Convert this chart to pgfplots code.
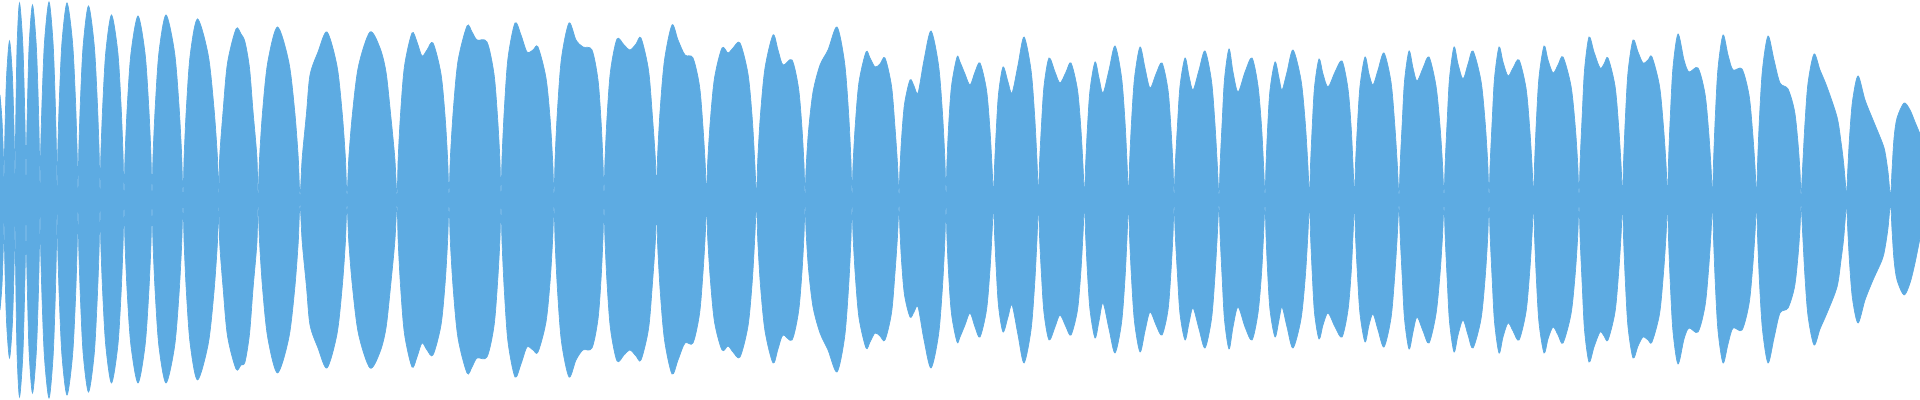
\documentclass[border=0pt]{standalone}
\usepackage{pgfplots}
\usepackage{pgfplotstable}
\pgfplotsset{compat=1.18}
\usepgfplotslibrary{fillbetween}

\definecolor{wavefill}{RGB}{93,171,226}

% envelope of the waveform: x in samples (px), up/lo = upper/lower amplitude
\pgfplotstableread{
x up lo
0 105 -110
2 80 -85
3.5 40 -40
4 4 -4
4.4 40 -40
5.3 83 -83
6.75 127 -126
9.5 159 -158
12.25 127 -126
13.7 83 -83
14.6 40 -40
15 4 -4
15.4 49 -49
16.1 102 -102
17.2 158 -158
19.5 197 -197
22.7 158 -158
24.4 102 -102
25.5 49 -49
26 4 -4
26.5 49 -49
27.6 101 -100
29.2 156 -154
32.5 195 -193
36.2 156 -154
38.2 101 -100
39.4 49 -49
40 4 -4
40.7 50 -50
42.2 103 -103
44.5 158 -158
49 198 -198
53 158 -158
55.1 103 -103
56.4 50 -50
57 4 -4
57.8 49 -49
59.4 102 -101
62 158 -156
67 197 -195
72.5 158 -156
75.4 102 -101
77.1 49 -49
78 4 -4
78.8 49 -49
80.5 101 -100
83.2 155 -154
88.5 194 -192
94.2 155 -154
97.2 101 -100
99.1 49 -49
100 4 -4
100.9 46 -46
102.8 96 -95
105.8 148 -146
111.5 185 -183
117.8 148 -146
121 96 -95
123 46 -46
124 4 -4
125.1 46 -46
127.4 96 -96
131 147 -146
138 184 -183
145 147 -146
148.6 96 -96
150.9 46 -46
152 4 -4
153.1 46 -46
155.4 96 -96
159 148 -147
166 185 -183
174.5 148 -147
178.9 96 -96
181.6 46 -46
183 4 -4
184.2 45 -45
186.5 94 -94
190.2 145 -144
197.5 181 -180
208.2 145 -144
213.8 94 -94
217.3 45 -45
219 4 -4
219.7 43 -43
223.1 89 -88
227.5 137 -136
236 171 -169
241 166 -165
245 158 -162
249.5 132 -134
253 89 -89
256.9 43 -43
258 4 -4
259.6 43 -43
262.7 90 -90
267.8 138 -138
277.5 173 -173
288.8 138 -138
294.6 90 -90
298.2 43 -43
300 4 -4
302.2 42 -42
306.5 87 -87
310 125 -125
318 148 -148
327 168 -168
337 134 -134
342.2 87 -87
345.4 42 -42
347 4 -4
348.8 42 -42
352.5 87 -87
358.5 134 -134
370 168 -168
380 152 -152
386 128 -128
390.5 87 -87
394.8 42 -42
397 4 -4
398.2 42 -42
400.6 87 -87
404.5 134 -134
412 167 -167
417 158 -157
422 144 -143
427 150 -150
433 157 -155
441 126 -125
445.2 82 -82
447.7 39 -39
449 4 -4
450.4 43 -43
453.3 90 -90
458 139 -138
467 174 -173
472 168 -167
477 160 -158
487 158 -157
494 126 -126
497.6 82 -82
499.9 40 -40
501 4 -4
502.1 44 -44
504.4 92 -92
508 142 -142
515 177 -177
521 165 -164
527 148 -147
533 150 -150
538 153 -152
546 122 -122
550.2 80 -80
552.7 38 -38
554 4 -4
555.2 44 -44
557.6 92 -92
561.5 142 -142
569 177 -177
576 160 -160
583 153 -150
592 150 -148
598 120 -119
601.1 78 -78
603 37 -37
604 4 -4
605 40 -40
607.1 84 -84
610.5 129 -129
617 161 -161
624 155 -155
630 150 -150
636 156 -156
641 162 -160
648.5 130 -129
652.4 84 -84
655.4 40 -40
656.5 4 -4
657.6 44 -44
660.2 91 -91
664.5 140 -140
672 175 -174
678 160 -160
685 145 -143
693 142 -143
699.5 114 -114
702.9 74 -74
705.2 36 -36
706.5 4 -4
707.7 38 -38
710.3 79 -79
714.5 122 -122
722 152 -150
728 147 -146
733 152 -152
740 157 -157
748 126 -126
752.2 82 -82
754.7 39 -39
756.5 4 -4
757.8 41 -41
760.5 86 -86
765 132 -131
773 165 -163
778 150 -149
783 135 -135
792 140 -140
798.5 112 -112
801.9 73 -73
804 35 -35
805 4 -4
806.2 34 -34
808.6 70 -70
813 108 -107
820 135 -133
828 150 -150
837 173 -172
844.5 138 -138
848.4 90 -90
850.8 43 -43
852 4 -4
853.1 37 -37
855.4 77 -77
859 118 -118
866 148 -148
870 142 -142
875 133 -133
880 136 -136
885 142 -140
891.5 114 -113
894.9 74 -74
897.5 36 -36
899 4 -4
899.9 30 -30
901.6 62 -62
904.5 96 -95
910 120 -117
914 114 -112
918 107 -107
924 140 -140
931 169 -168
938.5 135 -135
942.4 88 -88
944.8 42 -42
946 4 -4
946.9 36 -36
948.6 74 -74
951.5 114 -114
957 143 -142
960 138 -137
965 126 -125
970 115 -113
975 128 -127
980 137 -137
986.5 110 -110
989.9 71 -71
992 34 -34
993.5 4 -4
994.5 33 -33
996.2 69 -69
998.5 106 -106
1003 133 -132
1008 118 -117
1012 107 -105
1018 135 -135
1024 163 -163
1031 130 -130
1034.6 85 -85
1036.9 41 -41
1038.5 4 -4
1039.5 36 -36
1041.4 74 -74
1044 114 -113
1049 142 -140
1055 128 -127
1060 117 -115
1066 128 -127
1071 137 -135
1077.5 110 -110
1080.9 71 -71
1083 34 -34
1084.5 4 -4
1085.6 35 -35
1087.4 72 -72
1090 110 -110
1095 138 -138
1099 122 -121
1103 107 -103
1109 130 -129
1115 154 -153
1121.5 123 -123
1124.9 80 -80
1127 38 -38
1128.5 4 -4
1129.6 38 -38
1131.6 80 -80
1134.5 122 -122
1140 153 -152
1145 132 -131
1150 112 -112
1156 126 -125
1162 137 -135
1168 110 -110
1171 71 -71
1173 34 -34
1174 4 -4
1175.3 36 -36
1177.4 74 -74
1180 114 -114
1185 142 -140
1189 124 -123
1193 110 -108
1199 130 -129
1205 149 -148
1211.5 119 -119
1214.9 77 -77
1217.2 37 -37
1219 4 -4
1220.2 38 -38
1222.2 79 -79
1224.5 121 -120
1229 151 -149
1233 128 -127
1238 108 -107
1245 128 -127
1252 142 -140
1258 114 -113
1261.5 74 -74
1263.5 36 -36
1265 4 -4
1266 35 -35
1267.6 72 -72
1270 110 -110
1275 138 -137
1279 122 -120
1282 110 -107
1287 128 -127
1293 150 -148
1301 120 -119
1305.2 78 -78
1307.7 38 -38
1309.5 4 -4
1310.5 35 -35
1312.2 73 -73
1314.5 113 -113
1319 141 -139
1323 126 -125
1328 113 -113
1335 128 -127
1342 139 -137
1348 111 -110
1351.2 72 -72
1353 35 -35
1354.5 4 -4
1355.5 36 -36
1357.4 74 -74
1360 114 -114
1365 143 -142
1369 126 -125
1373 115 -114
1378 130 -130
1384 147 -147
1391 118 -118
1394.7 76 -76
1397.2 37 -37
1399 4 -4
1400.2 37 -37
1402.2 77 -77
1404.5 119 -119
1409 149 -149
1413 132 -132
1417 119 -117
1423 132 -131
1429 143 -143
1436 114 -114
1440 74 -74
1442.5 36 -36
1444 4 -4
1445.2 38 -38
1447.2 80 -80
1449.5 122 -122
1454 153 -152
1458 136 -135
1463 121 -120
1468 136 -135
1473 149 -148
1481 119 -119
1485.2 77 -77
1487.7 37 -37
1489 4 -4
1490.2 38 -38
1492.2 80 -80
1494.5 122 -122
1499 153 -153
1503 138 -137
1508 124 -123
1513 132 -131
1519 140 -140
1526 112 -112
1529.6 73 -73
1532 35 -35
1533.5 4 -4
1534.6 38 -38
1536.4 80 -80
1539 123 -123
1544 154 -153
1548 140 -139
1553 127 -127
1558 135 -135
1563 143 -143
1571 114 -114
1575.2 74 -74
1577.7 36 -36
1579 4 -4
1580.2 41 -41
1582.2 85 -85
1584.5 130 -130
1589 163 -162
1594 148 -147
1600 132 -132
1604 136 -136
1608 142 -140
1615 114 -112
1618.6 74 -73
1621 36 -36
1622.5 4 -4
1623.6 40 -40
1625.4 83 -83
1628 128 -127
1633 160 -158
1638 148 -146
1643 137 -137
1648 140 -140
1652 143 -142
1659.5 114 -114
1663.4 74 -74
1666 36 -36
1667.5 4 -4
1668.6 42 -42
1670.4 86 -86
1673 133 -132
1678 166 -164
1684 140 -139
1689 128 -128
1698 132 -132
1705 106 -106
1708.6 69 -69
1711 33 -33
1712.5 4 -4
1713.6 41 -41
1715.4 86 -86
1718 132 -131
1723 165 -163
1728 145 -144
1733 130 -128
1742 131 -130
1749 105 -104
1752.6 68 -68
1755 33 -33
1756.5 4 -4
1757.7 41 -41
1759.6 85 -85
1762.5 131 -130
1768 164 -163
1774 140 -138
1780 117 -113
1788 111 -108
1794.5 89 -87
1797.9 58 -57
1800 28 -28
1801 4 -4
1802.8 37 -37
1804.9 76 -76
1808 117 -116
1814 146 -145
1820 130 -129
1827 113 -113
1837 83 -87
1841 58 -60
1843.5 38 -40
1845.3 18 -18
1846.5 4 -4
1847.8 31 -31
1849.6 64 -64
1852.5 99 -99
1858 124 -123
1865 100 -100
1873 80 -80
1882 58 -60
1885 48 -48
1888 28 -28
1890.5 4 -4
1892 30 -30
1894 62 -60
1897 82 -80
1904 97 -95
1910 90 -83
1915 78 -63
1920 66 -38
}\wave

\begin{document}
\begin{tikzpicture}
\begin{axis}[
    width=19.2cm, height=4cm,
    scale only axis,
    hide axis,
    xmin=0, xmax=1920,
    ymin=-200, ymax=200,
]
\addplot[draw=none, smooth, tension=0.5, name path=upper] table[x=x, y=up] {\wave};
\addplot[draw=none, smooth, tension=0.5, name path=lower] table[x=x, y=lo] {\wave};
\addplot[fill=wavefill, draw=wavefill, line width=0.2pt] fill between[of=upper and lower];
\path (axis cs:0,-200) rectangle (axis cs:1920,200);
\end{axis}
\end{tikzpicture}
\end{document}
